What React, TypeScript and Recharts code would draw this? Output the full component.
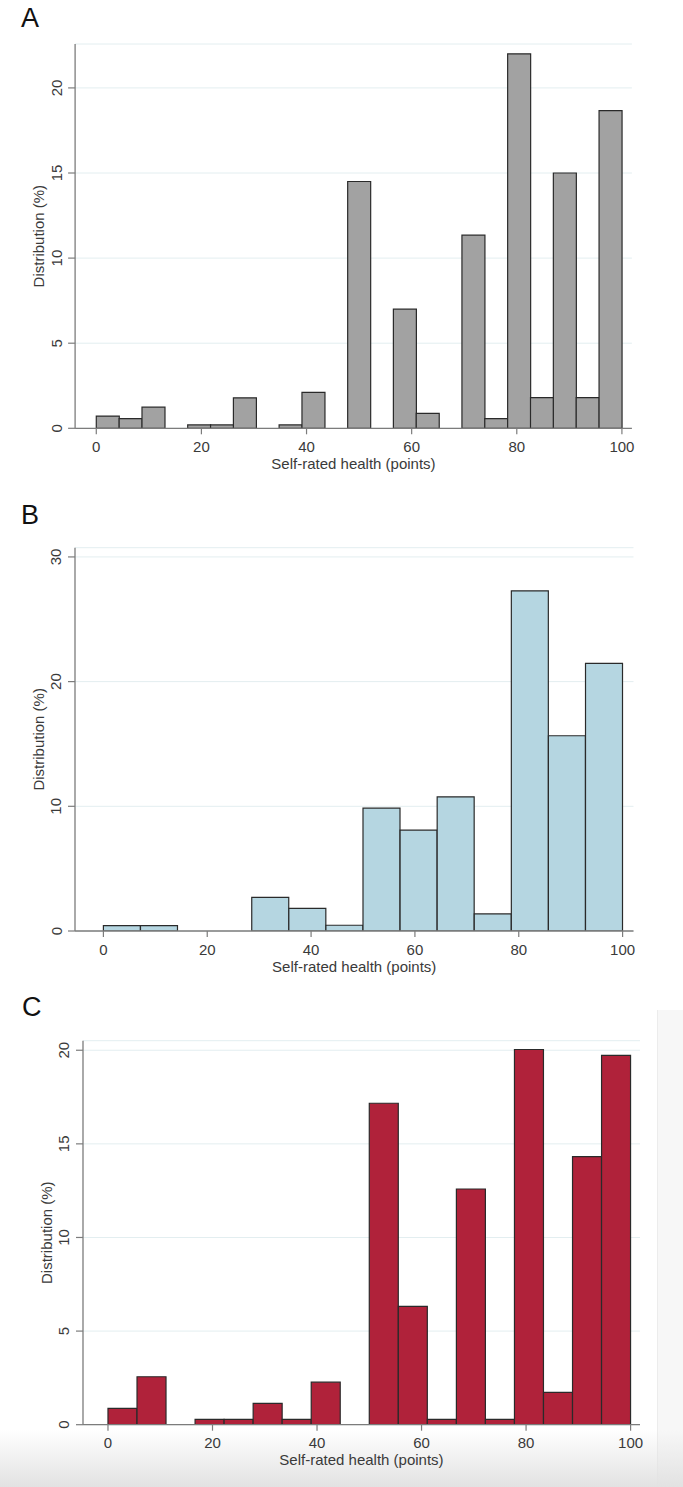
import React from "react";
import { ComposedChart, Bar, XAxis, YAxis, CartesianGrid } from "recharts";

// Panel A: 23 bins over 0–100
const valuesA = [0.72, 0.57, 1.24, 0, 0.2, 0.2, 1.79, 0, 0.2, 2.11, 0, 14.5, 0, 7.0, 0.88, 0, 11.35, 0.57, 22.0, 1.8, 15.0, 1.8, 18.67];
// Panel B: 14 bins over 0–100
const valuesB = [0.43, 0.43, 0, 0, 2.7, 1.82, 0.46, 9.85, 8.09, 10.76, 1.37, 27.28, 15.66, 21.47];
// Panel C: 18 bins over 0–100
const valuesC = [0.87, 2.56, 0, 0.28, 0.28, 1.14, 0.28, 2.27, 0, 17.17, 6.32, 0.28, 12.59, 0.28, 20.04, 1.73, 14.32, 19.73];

const xTicks = [0, 20, 40, 60, 80, 100];
const yTicksA = [0, 5, 10, 15, 20];
const yTicksB = [0, 10, 20, 30];
const yTicksC = [0, 5, 10, 15, 20];
const panelLetters = ["A", "B", "C"];
const xTitle = "Self-rated health (points)";
const yTitle = "Distribution (%)";

const FONT = "'Liberation Sans', Arial, Helvetica, sans-serif";
const AXIS = "#7c7c7c";
const TEXT = "#3a3a3a";

const toBins = (vals: number[]) => {
  const w = 100 / vals.length;
  return vals.map((v, i) => ({ mid: (i + 0.5) * w, v }));
};

const XTick = (props: any) => {
  const { x, y, payload } = props;
  return (
    <g>
      <line x1={x} x2={x} y1={y} y2={y + 6} stroke={AXIS} strokeWidth={1.2} />
      <text x={x} y={y + 18} textAnchor="middle" dominantBaseline="central" fontFamily={FONT} fontSize={15} fill={TEXT}>
        {payload.value}
      </text>
    </g>
  );
};

const YTick = (props: any) => {
  const { x, y, payload } = props;
  return (
    <g>
      <line x1={x} x2={x - 7} y1={y} y2={y} stroke={AXIS} strokeWidth={1.2} />
      <text
        x={x - 19}
        y={y}
        textAnchor="middle"
        dominantBaseline="central"
        fontFamily={FONT}
        fontSize={15}
        fill={TEXT}
        transform={`rotate(-90 ${x - 19} ${y})`}
      >
        {payload.value}
      </text>
    </g>
  );
};

const XTitle = (props: any) => {
  const { viewBox } = props;
  const cx = viewBox.x + viewBox.width / 2;
  return (
    <text x={cx} y={viewBox.y + 35} textAnchor="middle" dominantBaseline="central" fontFamily={FONT} fontSize={15} fill={TEXT}>
      {xTitle}
    </text>
  );
};

const YTitle = (props: any) => {
  const { viewBox } = props;
  const x = viewBox.x + viewBox.width - 36.5;
  const y = viewBox.y + viewBox.height / 2;
  return (
    <text x={x} y={y} textAnchor="middle" dominantBaseline="central" fontFamily={FONT} fontSize={15} fill={TEXT} transform={`rotate(-90 ${x} ${y})`}>
      {yTitle}
    </text>
  );
};

type PanelProps = {
  top: number;
  height: number;
  plotTop: number;
  plotBottom: number;
  plotLeft: number;
  plotRight: number;
  xDomain: [number, number];
  yDomain: [number, number];
  yTicks: number[];
  values: number[];
  fill: string;
};

const Panel = (p: PanelProps) => (
  <div style={{ position: "absolute", left: 0, top: p.top, width: 683, height: p.height }}>
    <ComposedChart
      width={683}
      height={p.height}
      data={toBins(p.values)}
      margin={{ top: p.plotTop, right: 683 - p.plotRight, bottom: 0, left: 0 }}
      barCategoryGap={0}
      barGap={0}
    >
      <CartesianGrid vertical={false} horizontal stroke="#e3eef0" strokeWidth={1} />
      <XAxis
        type="number"
        dataKey="mid"
        domain={p.xDomain}
        ticks={xTicks}
        interval={0}
        allowDataOverflow
        height={p.height - p.plotBottom}
        tickSize={0}
        tickMargin={0}
        tickLine={false}
        axisLine={{ stroke: AXIS, strokeWidth: 1.3 }}
        tick={<XTick />}
        label={<XTitle />}
      />
      <YAxis
        type="number"
        domain={p.yDomain}
        ticks={p.yTicks}
        interval={0}
        allowDataOverflow
        width={p.plotLeft}
        tickSize={0}
        tickMargin={0}
        tickLine={false}
        axisLine={{ stroke: AXIS, strokeWidth: 1.3 }}
        tick={<YTick />}
        label={<YTitle />}
      />
      <Bar dataKey="v" fill={p.fill} stroke="#2a2a2a" strokeWidth={1.2} isAnimationActive={false} />
    </ComposedChart>
  </div>
);

const Letter = ({ text, x, y }: { text: string; x: number; y: number }) => (
  <div style={{ position: "absolute", left: x, top: y, fontFamily: FONT, fontSize: 27, lineHeight: "27px", color: "#111" }}>{text}</div>
);

export default function App() {
  return (
    <div style={{ position: "absolute", left: 0, top: 0, width: 683, height: 1487, background: "#ffffff", overflow: "hidden" }}>
      <div style={{ position: "absolute", left: 657, top: 1010, width: 26, height: 477, background: "#f7f7f7", borderLeft: "1px solid #ececec" }} />
      <div
        style={{
          position: "absolute",
          left: 0,
          top: 1430,
          width: 683,
          height: 57,
          background: "linear-gradient(to bottom, rgba(255,255,255,0), #e2e2e2)",
        }}
      />
      <Letter text={panelLetters[0]} x={21} y={5} />
      <Letter text={panelLetters[1]} x={21} y={502} />
      <Letter text={panelLetters[2]} x={22} y={994} />
      <Panel
        top={0}
        height={480}
        plotTop={44}
        plotBottom={428.3}
        plotLeft={75.1}
        plotRight={631.9}
        xDomain={[-4.03, 101.9]}
        yDomain={[0, 22.58]}
        yTicks={yTicksA}
        values={valuesA}
        fill="#a2a2a2"
      />
      <Panel
        top={490}
        height={500}
        plotTop={57.7}
        plotBottom={441}
        plotLeft={75}
        plotRight={633.5}
        xDomain={[-5.47, 102.1]}
        yDomain={[0, 30.74]}
        yTicks={yTicksB}
        values={valuesB}
        fill="#b5d6e1"
      />
      <Panel
        top={990}
        height={497}
        plotTop={50.7}
        plotBottom={434.7}
        plotLeft={83}
        plotRight={640}
        xDomain={[-4.78, 101.8]}
        yDomain={[0, 20.51]}
        yTicks={yTicksC}
        values={valuesC}
        fill="#b0223a"
      />
    </div>
  );
}
